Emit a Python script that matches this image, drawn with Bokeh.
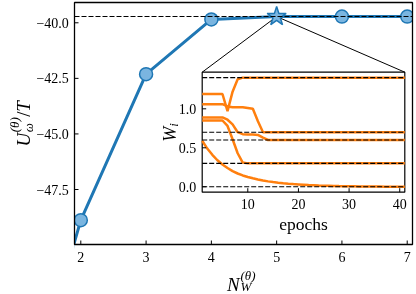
import math
from bokeh.plotting import figure
from bokeh.models import Range1d
from bokeh.embed import file_html
from bokeh.resources import INLINE
from bokeh.core.properties import value

# ---------------- data: main panel ----------------
n_weights = [1, 2, 3, 4, 5, 6, 7]
u_values = [-59.1, -48.88, -42.31, -39.85, -39.72, -39.72, -39.72]
u_exact = -39.72
best_n = 5
x_ticks = [2, 3, 4, 5, 6, 7]
x_tick_labels = ["2", "3", "4", "5", "6", "7"]
y_ticks = [-47.5, -45.0, -42.5, -40.0]
y_tick_labels = ["\u221247.5", "\u221245.0", "\u221242.5", "\u221240.0"]
xlim = (1.9035, 7.081)
ylim = (-49.974, -39.087)

# ---------------- data: inset (weights vs epochs) ----------------
w_targets = [1.4, 0.7, 0.6, 0.3, 0.0]
ep_a = [1, 5, 6, 7, 8, 9, 41]
w_a = [1.19, 1.19, 0.97, 1.22, 1.38, 1.40, 1.40]
ep_b = [1, 5, 6, 7, 8, 9, 10, 11, 12, 13, 41]
w_b = [1.06, 1.06, 1.03, 1.02, 1.02, 1.02, 1.01, 1.00, 0.84, 0.70, 0.70]
ep_c = [1, 5, 6, 7, 8, 9, 10, 11, 12, 13, 14, 41]
w_c = [0.89, 0.89, 0.86, 0.80, 0.70, 0.675, 0.67, 0.67, 0.665, 0.63, 0.60, 0.60]
ep_d = [1, 5, 6, 7, 8, 9, 10, 41]
w_d = [0.85, 0.85, 0.78, 0.61, 0.43, 0.31, 0.30, 0.30]
ep_e = list(range(1, 42))
w_e = [0.59, 0.49, 0.41, 0.34, 0.285, 0.24, 0.20, 0.17, 0.145, 0.125,
       0.108, 0.093, 0.080, 0.069, 0.060, 0.052, 0.045, 0.039, 0.034, 0.030,
       0.026, 0.022, 0.019, 0.016, 0.014, 0.012, 0.010, 0.008, 0.007, 0.006,
       0.005, 0.004, 0.003, 0.003, 0.002, 0.002, 0.001, 0.001, 0.001, 0.0, 0.0]
inset_x_ticks = [10, 20, 30, 40]
inset_x_tick_labels = ["10", "20", "30", "40"]
inset_y_ticks = [0.0, 0.5, 1.0]
inset_y_tick_labels = ["0.0", "0.5", "1.0"]
inset_xlim = (1, 41)
inset_ylim = (-0.07, 1.47)

# ---------------- layout (pixels) ----------------
W, H = 416, 294
FL, FR, FT, FB = 74, 412, 2, 244            # main axes box
IL, IR, IT, IB = 201.7, 404.3, 71.7, 191.7  # inset box

SERIF = "Liberation Serif"
BLUE = "#1f77b4"
BLUE_FILL = "#7ab5e0"
ORANGE = "#ff7f0e"

upx_x = (xlim[1] - xlim[0]) / (FR - FL)
upx_y = (ylim[1] - ylim[0]) / (FB - FT)
x_range = Range1d(xlim[0] - FL * upx_x, xlim[1] + (W - FR) * upx_x)
y_range = Range1d(ylim[0] - (H - FB) * upx_y, ylim[1] + FT * upx_y)

p = figure(width=W, height=H, x_range=x_range, y_range=y_range,
           output_backend="svg", toolbar_location=None, title=None,
           x_axis_location=None, y_axis_location=None,
           min_border=0, min_border_left=0, min_border_right=0,
           min_border_top=0, min_border_bottom=0)
p.styles = {"position": "fixed", "left": "0px", "top": "0px"}
p.background_fill_color = "white"
p.border_fill_color = "white"
p.outline_line_color = None
p.grid.visible = False

# inset ranges mapped onto the canvas
ipx_x = (inset_xlim[1] - inset_xlim[0]) / (IR - IL)
ipx_y = (inset_ylim[1] - inset_ylim[0]) / (IB - IT)
p.extra_x_ranges = {"ix": Range1d(inset_xlim[0] - IL * ipx_x,
                                  inset_xlim[1] + (W - IR) * ipx_x)}
p.extra_y_ranges = {"iy": Range1d(inset_ylim[0] - (H - IB) * ipx_y,
                                  inset_ylim[1] + IT * ipx_y)}
R = dict(x_range_name="ix", y_range_name="iy")


def mx(px):
    return x_range.start + px * upx_x


def my(py):
    return y_range.end - py * upx_y


def txt(x, y, text, size, italic=False, angle=0.0, align="left",
        baseline="alphabetic", dx=0.0, dy=0.0, **kw):
    p.text(x=x, y=y, text=text, text_font=value(SERIF), text_font_size=size,
           text_font_style="italic" if italic else "normal", text_color="black",
           angle=angle, text_align=align, text_baseline=baseline,
           x_offset=dx, y_offset=dy, **kw)


# ---------------- main panel ----------------
p.line(n_weights, u_values, line_color=BLUE, line_width=3)
u_best = u_values[n_weights.index(best_n)]
p.segment(x0=[best_n, best_n], y0=[u_best, u_best],
          x1=[mx(IL), mx(IR)], y1=[my(IT), my(IT)],
          line_color="black", line_width=1)
cx = [n for n in n_weights if n != best_n]
cy = [u for n, u in zip(n_weights, u_values) if n != best_n]
p.scatter(cx, cy, marker="circle", size=13, fill_color=BLUE_FILL,
          line_color=BLUE, line_width=1.5)
p.scatter([best_n], [u_best], marker="star", size=20, fill_color=BLUE_FILL,
          line_color=BLUE, line_width=1.5)
p.segment(x0=[xlim[0]], x1=[xlim[1]], y0=[u_exact], y1=[u_exact],
          line_color="black", line_width=1.1, line_dash="5 2")

# white masks outside the axes box (clip)
p.quad(left=[x_range.start, xlim[1], xlim[0], xlim[0]],
       right=[xlim[0], x_range.end, xlim[1], xlim[1]],
       bottom=[y_range.start, y_range.start, y_range.start, ylim[1]],
       top=[y_range.end, y_range.end, ylim[0], y_range.end],
       fill_color="white", line_color=None)

# axes box, ticks, tick labels
p.quad(left=[xlim[0]], right=[xlim[1]], bottom=[ylim[0]], top=[ylim[1]],
       fill_color=None, line_color="black", line_width=1.3)
tl = 4
p.segment(x0=x_ticks, x1=x_ticks, y0=[ylim[0]] * len(x_ticks),
          y1=[ylim[0] + tl * upx_y] * len(x_ticks), line_color="black", line_width=1)
p.segment(x0=[xlim[0]] * len(y_ticks), x1=[xlim[0] + tl * upx_x] * len(y_ticks),
          y0=y_ticks, y1=y_ticks, line_color="black", line_width=1)
txt(x_ticks, [ylim[0]] * len(x_ticks), x_tick_labels, "14px",
    align="center", baseline="middle", dy=12)
txt([xlim[0]] * len(y_ticks), y_ticks, y_tick_labels, "14px",
    align="right", baseline="middle", dx=-5.7)

# x title  N_W^(theta)   (offsets from bottom-left corner of the box)
x0, y0 = [xlim[0]], [ylim[0]]
txt(x0, y0, ["N"], "19px", italic=True, dx=226.5 - FL, dy=283.5 - FB)
txt(x0, y0, ["(\u03b8)"], "13px", italic=True, dx=240 - FL, dy=274.5 - FB)
txt(x0, y0, ["W"], "13px", italic=True, dx=240 - FL, dy=286 - FB)

# y title  U_omega^(theta)/T  (rotated)
A = math.pi / 2
txt(x0, y0, ["U"], "19px", italic=True, angle=A, dx=23 - FL, dy=146 - FB)
txt(x0, y0, ["(\u03b8)"], "13px", italic=True, angle=A, dx=14 - FL, dy=131.8 - FB)
txt(x0, y0, ["\u03c9"], "13px", italic=True, angle=A, dx=27.5 - FL, dy=131.8 - FB)
txt(x0, y0, ["/"], "19px", angle=A, dx=23 - FL, dy=116.3 - FB)
txt(x0, y0, ["T"], "19px", italic=True, angle=A, dx=23 - FL, dy=111.2 - FB)

# ---------------- inset ----------------
p.quad(left=[inset_xlim[0]], right=[inset_xlim[1]], bottom=[inset_ylim[0]],
       top=[inset_ylim[1]], fill_color="white", line_color="black",
       line_width=1.2, **R)
for ep, w in ((ep_a, w_a), (ep_b, w_b), (ep_c, w_c), (ep_d, w_d), (ep_e, w_e)):
    p.line(ep, w, line_color=ORANGE, line_width=2.5, **R)
p.segment(x0=[inset_xlim[0]] * len(w_targets), x1=[inset_xlim[1]] * len(w_targets),
          y0=w_targets, y1=w_targets, line_color="black", line_width=1.1,
          line_dash="5 2", **R)
p.segment(x0=inset_x_ticks, x1=inset_x_ticks,
          y0=[inset_ylim[0]] * len(inset_x_ticks),
          y1=[inset_ylim[0] + tl * ipx_y] * len(inset_x_ticks),
          line_color="black", line_width=1, **R)
p.segment(x0=[inset_xlim[0]] * len(inset_y_ticks),
          x1=[inset_xlim[0] + tl * ipx_x] * len(inset_y_ticks),
          y0=inset_y_ticks, y1=inset_y_ticks,
          line_color="black", line_width=1, **R)
txt(inset_x_ticks, [inset_ylim[0]] * len(inset_x_ticks), inset_x_tick_labels, "14px",
    align="center", baseline="middle", dy=11.5, **R)
txt([inset_xlim[0]] * len(inset_y_ticks), inset_y_ticks, inset_y_tick_labels, "14px",
    align="right", baseline="middle", dx=-6, **R)
imid_x = (inset_xlim[0] + inset_xlim[1]) / 2
imid_y = (inset_ylim[0] + inset_ylim[1]) / 2
txt([imid_x], [inset_ylim[0]], ["epochs"], "17.5px", align="center",
    baseline="middle", dy=32, **R)
txt([inset_xlim[0]], [imid_y], ["W"], "18px", italic=True, angle=A,
    dx=-32, dy=9.5, **R)
txt([inset_xlim[0]], [imid_y], ["i"], "13px", italic=True, angle=A,
    dx=-28.5, dy=-5.5, **R)

open("out.html", "w").write(file_html(p, INLINE))
